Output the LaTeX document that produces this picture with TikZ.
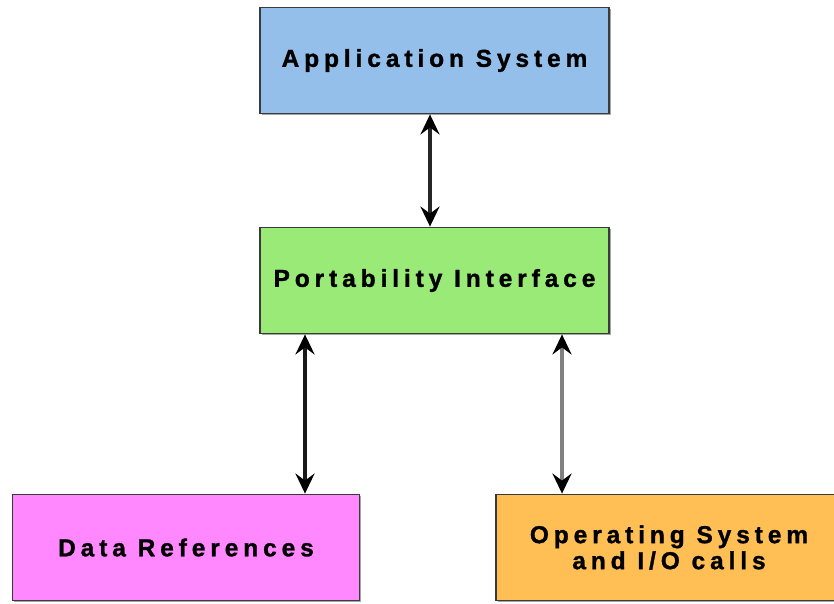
\documentclass[tikz,border=0pt]{standalone}
\usepackage{fontspec}
\setmainfont{Liberation Sans}
\newfontfamily\boxfont[LetterSpace=20,FakeBold=1.2]{Liberation Sans Bold}
\usetikzlibrary{arrows.meta,positioning,shadows}
\definecolor{appblue}{HTML}{93BFEA}
\definecolor{portgreen}{HTML}{99EA76}
\definecolor{datapink}{HTML}{FF88FF}
\definecolor{osorange}{HTML}{FFBF55}
\definecolor{edgegray}{HTML}{3A3A3A}
\tikzset{
  box/.style={draw=edgegray, line width=1.8pt, minimum width=#1, minimum height=106pt,
    inner sep=0pt, align=center, font=\boxfont\fontsize{24.5pt}{26pt}\selectfont,
    drop shadow={shadow xshift=1.8pt, shadow yshift=-1.8pt, fill=gray!70, opacity=1}},
  box/.default=349pt,
  link/.style={line width=3.8pt, {Stealth[length=20pt,width=19pt,inset=7pt,black]}-{Stealth[length=20pt,width=19pt,inset=7pt,black]}}
}
\begin{document}
\begin{tikzpicture}[x=1pt,y=-1pt]
\useasboundingbox (0,0) rectangle (834,604);
\clip (0,0) rectangle (834,604);
\node[box, fill=appblue] (app) at (434.5,60.5) {Application System};
\node[box, fill=portgreen] (port) at (434.5,280.5) {Portability Interface};
\node[box=347pt, fill=datapink] (data) at (186,547.5) {Data References};
\node[box=346pt, fill=osorange] (os) at (669,547.5) {Operating System\\and I/O calls};
\draw[link, draw=black!85] (app.south -| 430,0) -- (port.north -| 430,0);
\draw[link, draw=black!90] (port.south -| 305,0) -- (data.north -| 305,0);
\draw[link, draw=black!50] (port.south -| 562,0) -- (os.north -| 562,0);
\end{tikzpicture}
\end{document}
